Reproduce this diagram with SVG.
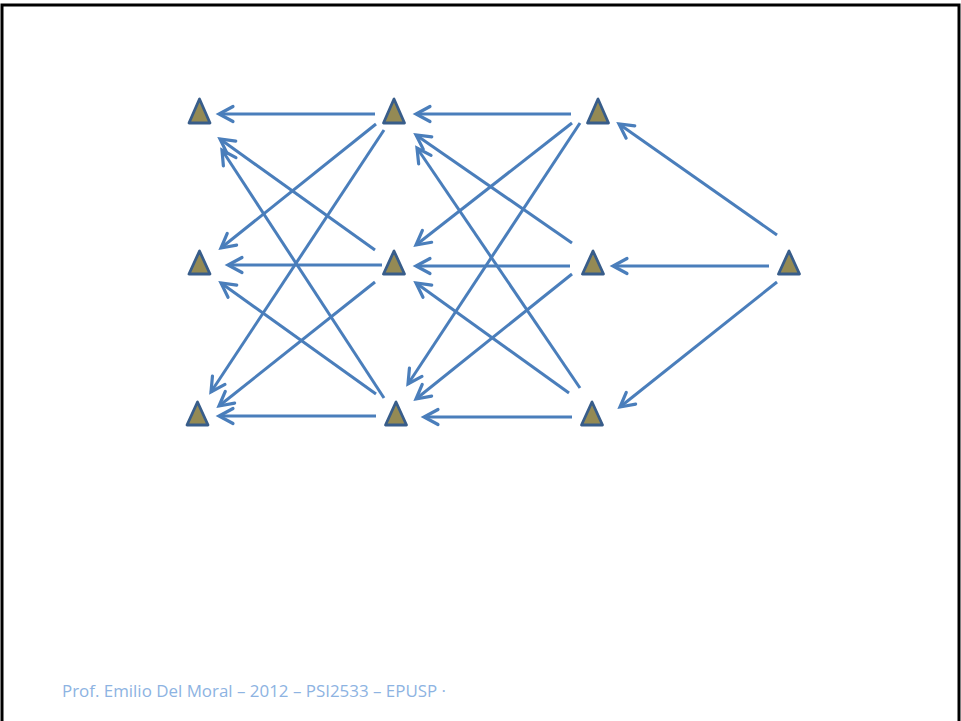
<svg xmlns="http://www.w3.org/2000/svg" width="961" height="721" viewBox="0 0 961 721">
<style>
.frame{fill:none;stroke:#000;stroke-width:3}
.node polygon{fill:#948A54;stroke:#385D8A;stroke-width:2.8;stroke-linejoin:round}
.edges line{stroke:#4A7EBB;stroke-width:3;marker-end:url(#ah)}
.foot{font-family:"Open Sans","Liberation Sans",Arial,sans-serif;font-size:15.5px;fill:#8DB3E2}
</style>
<defs>
<marker id="ah" markerUnits="userSpaceOnUse" markerWidth="30" markerHeight="30" viewBox="-20 -15 30 30" refX="0" refY="0" orient="auto">
<path d="M-14,-7.5 L0,0 L-14,7.5" fill="none" stroke="#4A7EBB" stroke-width="3.2" stroke-linecap="round" stroke-linejoin="miter"/>
</marker>
</defs>
<rect width="961" height="721" fill="#fff"/>
<rect class="frame" x="2" y="5" width="957" height="740"/>
<g id="edges" class="edges">
<line x1="375" y1="114" x2="219" y2="114"/>
<line x1="376" y1="124" x2="221" y2="248"/>
<line x1="384" y1="130" x2="211" y2="392"/>
<line x1="375" y1="250" x2="220" y2="139"/>
<line x1="382" y1="265" x2="228" y2="265"/>
<line x1="375" y1="282" x2="219" y2="406"/>
<line x1="384" y1="398" x2="222" y2="150"/>
<line x1="376" y1="394" x2="221" y2="283"/>
<line x1="376" y1="416" x2="219" y2="416"/>
<line x1="571" y1="114" x2="416" y2="114"/>
<line x1="572" y1="123" x2="416" y2="245"/>
<line x1="580" y1="123" x2="408" y2="384"/>
<line x1="572" y1="243" x2="416" y2="135"/>
<line x1="570" y1="266" x2="416" y2="266"/>
<line x1="572" y1="274" x2="416" y2="399"/>
<line x1="580" y1="388" x2="417" y2="148"/>
<line x1="569" y1="393" x2="416" y2="283"/>
<line x1="572" y1="417" x2="424" y2="417"/>
<line x1="777" y1="235" x2="619" y2="124"/>
<line x1="769" y1="266" x2="613" y2="266"/>
<line x1="777" y1="282" x2="620" y2="407"/>
</g>
<g id="n11" class="node"><polygon points="199.5,99 189,123 210,123"/></g>
<g id="n12" class="node"><polygon points="199.5,251 189,274 210,274"/></g>
<g id="n13" class="node"><polygon points="197.5,402 187,425 208,425"/></g>
<g id="n21" class="node"><polygon points="394,99 383.5,123 404.5,123"/></g>
<g id="n22" class="node"><polygon points="394,251 383.5,274 404.5,274"/></g>
<g id="n23" class="node"><polygon points="396,402 385.5,425 406.5,425"/></g>
<g id="n31" class="node"><polygon points="598,99 587.5,123 608.5,123"/></g>
<g id="n32" class="node"><polygon points="593,251 582.5,274 603.5,274"/></g>
<g id="n33" class="node"><polygon points="592,402 581.5,425 602.5,425"/></g>
<g id="n41" class="node"><polygon points="789,251 778.5,274 799.5,274"/></g>
<text class="foot" x="62" y="697" textLength="384" lengthAdjust="spacingAndGlyphs">Prof. Emilio Del Moral – 2012 – PSI2533 – EPUSP ·</text>
</svg>
